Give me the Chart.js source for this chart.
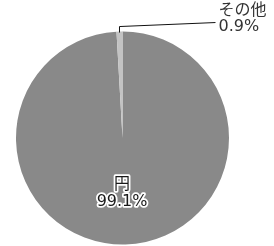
<!DOCTYPE html>
<html>
<head>
<meta charset="utf-8">
<script src="https://cdn.jsdelivr.net/npm/chart.js@4"></script>
<style>
    html, body { margin: 0; padding: 0; background: #fff; }
    #wrap { width: 274px; height: 246px; }
</style>
</head>
<body>
<div id="wrap"><canvas id="grafico"></canvas></div>
<script>
const categorias = ['円', 'その他'];
const valores = [99.1, 0.9];
const colores = ['#898989', '#c3c3c3'];

const FUENTE = '"DejaVu Sans", "Noto Sans CJK JP", sans-serif';

// etiquetas: la grande dentro con contorno blanco, la chica afuera con linea guia
const etiquetasPlugin = {
    id: 'etiquetas',
    afterDatasetsDraw(chart) {
        const ctx = chart.ctx;
        const arcos = chart.getDatasetMeta(0).data;
        ctx.save();
        ctx.font = '16px ' + FUENTE;
        ctx.textAlign = 'center';
        ctx.textBaseline = 'middle';

        arcos.forEach((arc, i) => {
            const { x, y, startAngle, endAngle, outerRadius } = arc.getProps(
                ['x', 'y', 'startAngle', 'endAngle', 'outerRadius'], true);
            const medio = (startAngle + endAngle) / 2;
            const texto = [categorias[i], valores[i].toFixed(1) + '%'];

            if (i === 0) {
                const r = outerRadius * 0.52;
                const px = x + Math.cos(medio) * r - 2;
                const py = y + Math.sin(medio) * r;
                ctx.lineJoin = 'round';
                ctx.lineWidth = 3.5;
                ctx.strokeStyle = '#fff';
                ctx.fillStyle = '#1a1a1a';
                texto.forEach((t, k) => {
                    const ty = py + (k - 0.5) * 17;
                    ctx.strokeText(t, px, ty);
                    ctx.fillText(t, px, ty);
                });
            } else {
                const ax = x + Math.cos(medio) * outerRadius;
                const ay = y + Math.sin(medio) * outerRadius;
                ctx.strokeStyle = '#111';
                ctx.lineWidth = 1;
                ctx.beginPath();
                ctx.moveTo(ax, ay + 1);
                ctx.lineTo(ax, ay - 5);
                ctx.lineTo(ax + 96, ay - 9);
                ctx.stroke();
                ctx.textAlign = 'left';
                ctx.fillStyle = '#333';
                const tx = ax + 99;
                ctx.fillText(texto[0], tx, ay - 21);
                ctx.fillText(texto[1], tx, ay - 5);
            }
        });
        ctx.restore();
    }
};

new Chart(document.getElementById('grafico'), {
    type: 'pie',
    data: {
        labels: categorias,
        datasets: [{
            data: valores,
            backgroundColor: colores,
            borderWidth: 0
        }]
    },
    options: {
        responsive: true,
        maintainAspectRatio: false,
        animation: false,
        layout: { padding: { left: 16, right: 45, top: 31, bottom: 1 } },
        plugins: {
            legend: { display: false },
            tooltip: { enabled: false }
        }
    },
    plugins: [etiquetasPlugin]
});
</script>
</body>
</html>
